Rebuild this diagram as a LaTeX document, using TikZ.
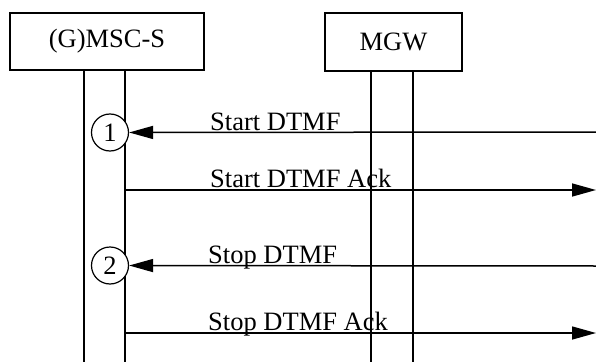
\documentclass[tikz,border=0pt]{standalone}
\usepackage{fontspec}
\setmainfont{Liberation Serif}
\usetikzlibrary{arrows.meta}
\begin{document}
\begin{tikzpicture}[x=1pt,y=1pt,
  every node/.style={font=\fontsize{26.5}{30}\selectfont},
  ent/.style={draw,line width=1.5pt,inner sep=0pt,fill=white},
  life/.style={line width=1.5pt},
  msg/.style={line width=1.5pt,-{Triangle[length=24pt,width=13pt]}},
  num/.style={draw,circle,line width=1.2pt,minimum size=37pt,inner sep=0pt,fill=white},
  lbl/.style={anchor=base west,inner sep=0pt}]
\useasboundingbox (0,0) rectangle (596,362);
% entities
\node[ent,minimum width=194pt,minimum height=57pt] (msc) at (107,320.5) {(G)MSC-S};
\node[ent,minimum width=137pt,minimum height=58pt] (mgw) at (393.5,320) {MGW};
% lifelines
\coordinate (m1t) at (84,292); \coordinate (m1b) at (84,0);
\coordinate (m2t) at (125,292); \coordinate (m2b) at (125,0);
\coordinate (g1t) at (371,291); \coordinate (g1b) at (371,0);
\coordinate (g2t) at (413,291); \coordinate (g2b) at (413,0);
\draw[life] (m1t) -- (m1b);
\draw[life] (m2t) -- (m2b);
\draw[life] (g1t) -- (g1b);
\draw[life] (g2t) -- (g2b);
% circles
\node[num] (c1) at (110,229.5) {1};
\node[num] (c2) at (110,96.5) {2};
% message end points
\coordinate (r1) at (596,230);
\coordinate (s2) at (125,172); \coordinate (r2) at (596,172);
\coordinate (r3) at (596,96);
\coordinate (s4) at (125,29); \coordinate (r4) at (596,29);
\draw[msg] (r1) -- (c1);
\draw[msg] (s2) -- (r2);
\draw[msg] (r3) -- (c2);
\draw[msg] (s4) -- (r4);
% labels
\node[lbl] (l1) at (210,232) {Start DTMF};
\node[lbl] (l2) at (210,174.5) {Start DTMF Ack};
\node[lbl] (l3) at (208,99) {Stop DTMF};
\node[lbl] (l4) at (208,31.5) {Stop DTMF Ack};
\end{tikzpicture}
\end{document}
